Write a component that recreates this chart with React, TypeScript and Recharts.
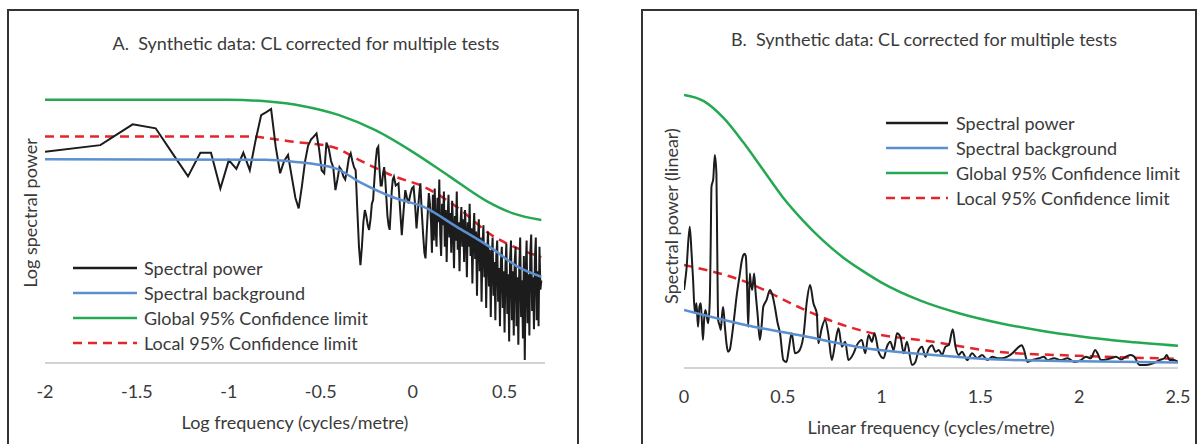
import React from "react";
import { LineChart, Line, XAxis, YAxis, Legend } from "recharts";

// ---- Panel A: log-log spectrum (x = log10 frequency) ----
const aTicks = [-2, -1.5, -1, -0.5, 0, 0.5];

const aPower: [number, number][] = [
  [-2, 69], [-1.699, 71.2], [-1.523, 78], [-1.398, 76.7], [-1.301, 68], [-1.222, 61],
  [-1.155, 68.7], [-1.097, 68.7], [-1.046, 57], [-1, 66.3], [-0.959, 63.4], [-0.921, 68.7],
  [-0.886, 63], [-0.854, 72.9], [-0.824, 81], [-0.796, 82], [-0.77, 83], [-0.745, 70.7],
  [-0.721, 62], [-0.699, 66], [-0.678, 68], [-0.658, 61], [-0.638, 54], [-0.62, 50.5],
  [-0.602, 58], [-0.585, 66], [-0.569, 71], [-0.553, 73], [-0.538, 74], [-0.523, 75],
  [-0.509, 70], [-0.495, 63], [-0.481, 62], [-0.469, 72], [-0.456, 70], [-0.444, 66],
  [-0.432, 64], [-0.42, 56.5], [-0.409, 60], [-0.398, 64], [-0.387, 63], [-0.377, 61],
  [-0.367, 60], [-0.357, 63], [-0.347, 67], [-0.337, 68.5], [-0.328, 66], [-0.319, 64],
  [-0.31, 63], [-0.301, 50], [-0.292, 38], [-0.284, 32], [-0.276, 38], [-0.268, 46],
  [-0.26, 50], [-0.252, 48], [-0.244, 45], [-0.237, 43.5], [-0.229, 47], [-0.222, 52],
  [-0.215, 53.3], [-0.208, 60], [-0.201, 66], [-0.194, 70], [-0.187, 70.7], [-0.181, 64],
  [-0.174, 58], [-0.168, 58], [-0.161, 62], [-0.155, 64], [-0.149, 60], [-0.143, 54],
  [-0.137, 48], [-0.131, 45], [-0.125, 43.5], [-0.119, 50], [-0.114, 56], [-0.108, 60],
  [-0.102, 60.9], [-0.092, 58], [-0.077, 58.7], [-0.068, 50], [-0.059, 41.8], [-0.049, 50],
  [-0.04, 56.5], [-0.031, 54], [-0.022, 52.2], [-0.013, 55], [-0.004, 57], [0.005, 57.6],
  [0.013, 52], [0.021, 44], [0.029, 50], [0.037, 56], [0.042, 58.7], [0.049, 50],
  [0.057, 42], [0.064, 36], [0.07, 34.2], [0.076, 42], [0.083, 50], [0.088, 55.5],
  [0.094, 52], [0.1, 46],
  [0.105, 36], [0.11, 55], [0.115, 40], [0.12, 57], [0.125, 44], [0.13, 38],
  [0.135, 54], [0.14, 46], [0.145, 60], [0.15, 42], [0.155, 35], [0.16, 52],
  [0.165, 45], [0.17, 56], [0.175, 38], [0.18, 50], [0.185, 33], [0.19, 47],
  [0.195, 55], [0.2, 41], [0.205, 49], [0.21, 36], [0.215, 53], [0.22, 44],
  [0.225, 31], [0.23, 48], [0.235, 40], [0.24, 56], [0.245, 37], [0.25, 46],
  [0.255, 30], [0.26, 45], [0.265, 51], [0.27, 38], [0.275, 47], [0.28, 33],
  [0.285, 50], [0.29, 42], [0.295, 28], [0.3, 46], [0.305, 38], [0.31, 52],
  [0.315, 35], [0.32, 44], [0.325, 26], [0.33, 42], [0.335, 49], [0.34, 34],
  [0.345, 43], [0.35, 22], [0.355, 40], [0.36, 47], [0.365, 30], [0.37, 41],
  [0.375, 20], [0.38, 38], [0.385, 45], [0.39, 28], [0.395, 39], [0.4, 18],
  [0.405, 36], [0.41, 43], [0.415, 25], [0.42, 37], [0.425, 15], [0.43, 34],
  [0.435, 41], [0.44, 22], [0.445, 33], [0.45, 14], [0.455, 35], [0.46, 40],
  [0.465, 20], [0.47, 31], [0.475, 12], [0.48, 33], [0.485, 38], [0.49, 18],
  [0.495, 30], [0.5, 10], [0.505, 32], [0.51, 39], [0.515, 16], [0.52, 29],
  [0.525, 7], [0.53, 34], [0.535, 40], [0.54, 14], [0.545, 30], [0.55, 9],
  [0.555, 33], [0.56, 38], [0.565, 12], [0.57, 28], [0.575, 6], [0.58, 31],
  [0.585, 41], [0.59, 15], [0.595, 27], [0.6, 8], [0.605, 35], [0.61, 1],
  [0.615, 30], [0.62, 40], [0.625, 13], [0.63, 29], [0.635, 9], [0.64, 36],
  [0.645, 42], [0.65, 17], [0.655, 28], [0.66, 11], [0.665, 34], [0.67, 41],
  [0.675, 14], [0.68, 30], [0.685, 12], [0.69, 38], [0.695, 24], [0.7, 27],
];

const aBackground: [number, number][] = [
  [-2, 66.6], [-0.8, 66.4], [-0.65, 65.8], [-0.42, 63.6], [-0.29, 59.2], [-0.1, 54],
  [0.06, 51], [0.24, 44.5], [0.43, 37.5], [0.57, 31.5], [0.7, 28.2],
];

const aGlobal: [number, number][] = [
  [-2, 86], [-1, 86], [-0.8, 85.5], [-0.6, 84], [-0.4, 81], [-0.2, 76], [0, 69],
  [0.2, 61], [0.4, 53], [0.55, 48.8], [0.7, 46.7],
];

const aLocal: [number, number][] = [
  [-2, 74], [-0.9, 74], [-0.65, 72.3], [-0.43, 70.5], [-0.29, 66.3], [-0.1, 61],
  [0.06, 57.6], [0.24, 51], [0.43, 41.8], [0.55, 38], [0.7, 34.6],
];

// ---- Panel B: linear spectrum ----
const bTicks = [0, 0.5, 1, 1.5, 2, 2.5];

const bPower: [number, number][] = [
  [0, 25.6], [0.012, 32], [0.029, 46.3], [0.038, 38], [0.046, 28.9], [0.055, 18],
  [0.063, 21.2], [0.071, 13.5], [0.078, 20], [0.085, 21.2], [0.09, 16], [0.096, 9.2],
  [0.102, 16], [0.108, 19], [0.115, 17], [0.122, 14.7], [0.13, 21.2], [0.135, 40],
  [0.139, 59.4], [0.148, 62], [0.156, 69.8], [0.164, 63.8], [0.168, 40], [0.173, 15.7],
  [0.18, 14], [0.186, 12.5], [0.192, 17], [0.198, 20], [0.207, 13.5], [0.215, 8],
  [0.223, 5.3], [0.232, 6], [0.24, 9.2], [0.253, 16], [0.266, 23.4], [0.283, 31],
  [0.292, 35], [0.3, 37], [0.307, 37.5], [0.313, 36.5], [0.32, 25], [0.325, 13.5],
  [0.333, 31], [0.338, 28], [0.345, 25.6], [0.355, 31], [0.362, 25], [0.372, 17.9],
  [0.384, 9.2], [0.393, 14], [0.401, 20], [0.418, 22.3], [0.435, 25.6], [0.447, 24],
  [0.46, 20], [0.473, 15], [0.486, 11.4], [0.503, 2.6], [0.519, 2], [0.53, 6],
  [0.545, 11.4], [0.562, 4.8], [0.579, 5.3], [0.604, 10.3], [0.622, 22], [0.638, 27.2],
  [0.655, 21.2], [0.672, 17.9], [0.68, 8.1], [0.697, 13], [0.714, 15.7], [0.731, 10.8],
  [0.748, 2.6], [0.765, 8.1], [0.782, 13], [0.799, 7], [0.816, 8.6], [0.832, 2.6],
  [0.858, 4.8], [0.875, 7.5], [0.9, 9.2], [0.917, 4.8], [0.934, 10.8], [0.951, 8.6],
  [0.964, 11.4], [0.985, 5.3], [1.01, 3.2], [1.027, 7], [1.044, 8.6], [1.061, 5.9],
  [1.078, 11.4], [1.095, 10.3], [1.112, 4.8], [1.128, 8.6], [1.154, 1], [1.171, 2],
  [1.188, 5.9], [1.205, 7], [1.222, 3.7], [1.239, 6.5], [1.255, 7.5], [1.273, 5.3],
  [1.289, 5.9], [1.306, 4.3], [1.323, 7], [1.34, 7.5], [1.36, 12.7], [1.374, 7],
  [1.39, 4.3], [1.407, 5.3], [1.433, 2.6], [1.458, 4.8], [1.484, 3.2], [1.509, 4.3],
  [1.535, 2.6], [1.56, 3.7], [1.585, 3.2], [1.611, 3.2], [1.637, 3.7], [1.662, 4.8],
  [1.687, 6.5], [1.709, 7.5], [1.721, 5.9], [1.738, 2], [1.764, 2.6], [1.797, 3.2],
  [1.822, 3.7], [1.839, 2.6], [1.873, 3.2], [1.907, 2.6], [1.941, 3.2], [1.975, 2],
  [2.009, 2.6], [2.034, 3.7], [2.059, 3.2], [2.081, 5.9], [2.093, 4.8], [2.11, 2.6],
  [2.136, 2.8], [2.161, 3.2], [2.186, 3.7], [2.212, 2.8], [2.237, 3.7], [2.262, 4.3],
  [2.279, 3.7], [2.305, 1], [2.339, 1], [2.373, 1.5], [2.406, 2.6], [2.431, 3.2],
  [2.443, 4.3], [2.457, 2.6], [2.48, 2.6], [2.5, 2],
];

const bBackground: [number, number][] = [
  [0, 19], [0.31, 14.1], [0.58, 10.8], [0.92, 6.5], [1.26, 4.3], [1.59, 2.8],
  [2.0, 2.2], [2.5, 1.8],
];

const bGlobal: [number, number][] = [
  [0, 89.5], [0.1, 87.5], [0.2, 82], [0.3, 74], [0.4, 65], [0.5, 56], [0.6, 48.5],
  [0.7, 42], [0.8, 36.5], [0.9, 32], [1.0, 28], [1.2, 22], [1.4, 17.8], [1.6, 14.7],
  [1.8, 12.3], [2.0, 10.4], [2.25, 8.6], [2.5, 7.3],
];

const bLocal: [number, number][] = [
  [0, 33.8], [0.31, 28.3], [0.58, 20], [0.63, 18.5], [0.92, 11.9], [1.26, 8.6],
  [1.59, 5.3], [2.0, 4], [2.5, 3],
];

const COLORS = {
  power: "#1c1c1c",
  background: "#5b8fcf",
  global: "#25a851",
  local: "#e2262b",
};

const legendItems = [
  { label: "Spectral power", color: COLORS.power, dashed: false },
  { label: "Spectral background", color: COLORS.background, dashed: false },
  { label: "Global 95% Confidence limit", color: COLORS.global, dashed: false },
  { label: "Local 95% Confidence limit", color: COLORS.local, dashed: true },
];

const FONT = "Lato, 'Open Sans', sans-serif";
const TEXT = "#3a3a3a";
const AXIS = "#c4c4c4";

const toPoints = (pairs: [number, number][]) => pairs.map(([x, y]) => ({ x, y }));

const renderLegend = (lineW: number, gap: number) => () => (
  <div style={{ fontFamily: FONT, fontSize: 18, color: TEXT }}>
    {legendItems.map((item) => (
      <div key={item.label} style={{ display: "flex", alignItems: "center", height: 25 }}>
        <svg width={lineW} height={10} style={{ display: "block", flexShrink: 0 }}>
          <line
            x1={0}
            y1={5}
            x2={lineW}
            y2={5}
            stroke={item.color}
            strokeWidth={2.5}
            strokeDasharray={item.dashed ? "9 6" : undefined}
          />
        </svg>
        <span style={{ marginLeft: gap, whiteSpace: "nowrap" }}>{item.label}</span>
      </div>
    ))}
  </div>
);

interface PanelProps {
  left: number;
  width: number;
  margin: { top: number; right: number; bottom: number; left: number };
  domain: [number, number];
  ticks: number[];
  power: [number, number][];
  powerCurve: "linear" | "monotone";
  background: [number, number][];
  global: [number, number][];
  local: [number, number][];
  xLabel: string;
  legendPos: { left: number; top: number };
  legendLine: number;
  legendGap: number;
}

const Panel: React.FC<PanelProps> = (p) => (
  <div style={{ position: "absolute", left: p.left, top: 0 }}>
    <LineChart width={p.width} height={444} margin={p.margin}>
      <XAxis
        dataKey="x"
        type="number"
        domain={p.domain}
        ticks={p.ticks}
        allowDataOverflow
        tickLine={false}
        axisLine={{ stroke: AXIS, strokeWidth: 1.5 }}
        tickMargin={16}
        height={30}
        tick={{ fill: TEXT, fontSize: 18, fontFamily: FONT }}
        label={{
          value: p.xLabel,
          position: "bottom",
          offset: 23,
          style: { fill: TEXT, fontSize: 18, fontFamily: FONT },
        }}
      />
      <YAxis
        type="number"
        domain={[0, 100]}
        width={0}
        tick={false}
        tickLine={false}
        axisLine={{ stroke: AXIS, strokeWidth: 1.5 }}
      />
      <Legend
        layout="vertical"
        align="center"
        verticalAlign="middle"
        wrapperStyle={{ left: p.legendPos.left, top: p.legendPos.top, width: 340 }}
        content={renderLegend(p.legendLine, p.legendGap)}
      />
      <Line
        data={toPoints(p.global)}
        dataKey="y"
        type="monotone"
        stroke={COLORS.global}
        strokeWidth={2.5}
        dot={false}
        isAnimationActive={false}
      />
      <Line
        data={toPoints(p.local)}
        dataKey="y"
        type="monotone"
        stroke={COLORS.local}
        strokeWidth={2.5}
        strokeDasharray="9 6"
        dot={false}
        isAnimationActive={false}
      />
      <Line
        data={toPoints(p.power)}
        dataKey="y"
        type={p.powerCurve}
        stroke={COLORS.power}
        strokeWidth={2}
        dot={false}
        isAnimationActive={false}
      />
      <Line
        data={toPoints(p.background)}
        dataKey="y"
        type="monotone"
        stroke={COLORS.background}
        strokeWidth={2.5}
        dot={false}
        isAnimationActive={false}
      />
    </LineChart>
  </div>
);

const centered: React.CSSProperties = {
  position: "absolute",
  fontFamily: FONT,
  fontSize: 18,
  color: TEXT,
  whiteSpace: "pre",
  lineHeight: 1,
};

export default function App() {
  return (
    <div
      style={{
        position: "absolute",
        left: 0,
        top: 0,
        width: 1197,
        height: 444,
        background: "#fff",
        overflow: "hidden",
      }}
    >
      <div
        style={{
          position: "absolute",
          left: 7,
          top: 9,
          width: 568,
          height: 460,
          border: "2px solid #333",
        }}
      />
      <div
        style={{
          position: "absolute",
          left: 641,
          top: 9,
          width: 552,
          height: 460,
          border: "2px solid #333",
        }}
      />

      <Panel
        left={0}
        width={600}
        margin={{ top: 57, right: 55, bottom: 51, left: 45 }}
        domain={[-2, 0.72]}
        ticks={aTicks}
        power={aPower}
        powerCurve="linear"
        background={aBackground}
        global={aGlobal}
        local={aLocal}
        xLabel="Log frequency (cycles/metre)"
        legendPos={{ left: 73, top: 255 }}
        legendLine={64}
        legendGap={7}
      />
      <Panel
        left={600}
        width={597}
        margin={{ top: 63, right: 19, bottom: 46, left: 84 }}
        domain={[0, 2.5]}
        ticks={bTicks}
        power={bPower}
        powerCurve="monotone"
        background={bBackground}
        global={bGlobal}
        local={bLocal}
        xLabel="Linear frequency (cycles/metre)"
        legendPos={{ left: 286, top: 110 }}
        legendLine={62}
        legendGap={8}
      />

      <div style={{ ...centered, left: 306, top: 43, transform: "translate(-50%, -50%)" }}>
        {"A.  Synthetic data: CL corrected for multiple tests"}
      </div>
      <div style={{ ...centered, left: 924, top: 39, transform: "translate(-50%, -50%)" }}>
        {"B.  Synthetic data: CL corrected for multiple tests"}
      </div>
      <div
        style={{ ...centered, left: 30, top: 213, transform: "translate(-50%, -50%) rotate(-90deg)" }}
      >
        Log spectral power
      </div>
      <div
        style={{ ...centered, left: 671, top: 216, transform: "translate(-50%, -50%) rotate(-90deg)" }}
      >
        Spectral power (linear)
      </div>
    </div>
  );
}
